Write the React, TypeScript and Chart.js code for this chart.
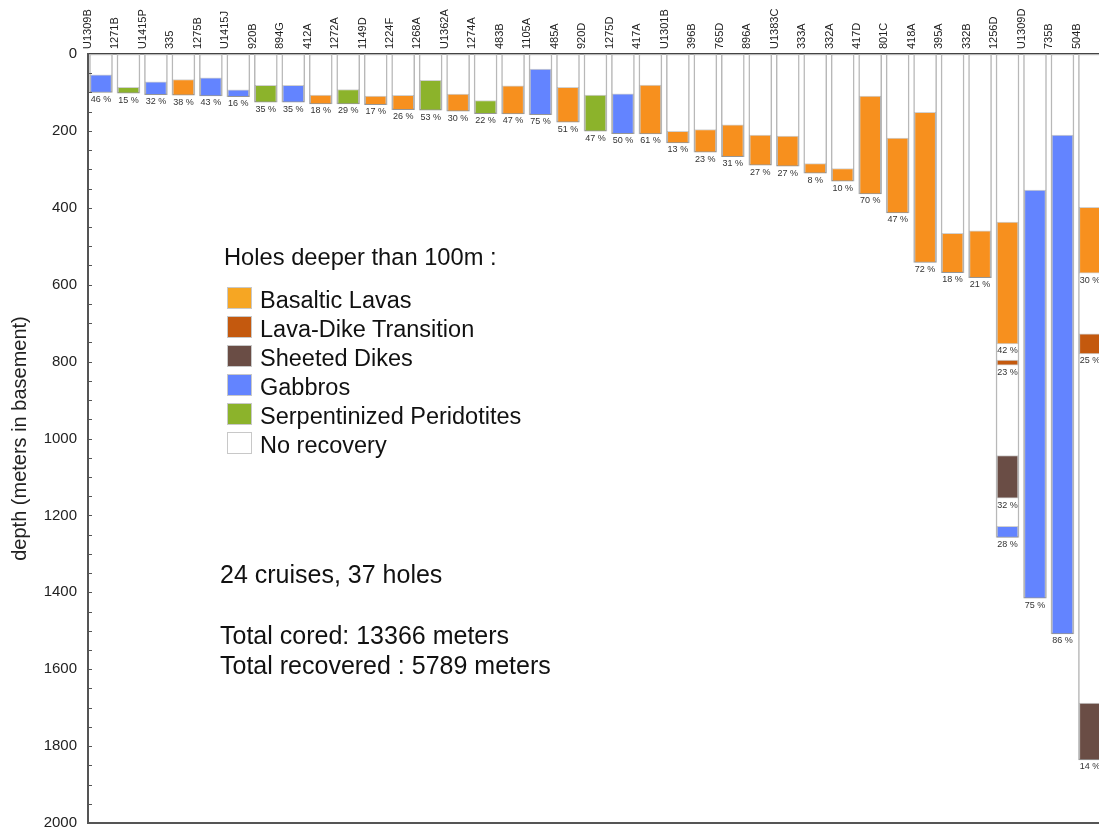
import React, { useEffect, useRef } from "react";
import { Chart, registerables } from "chart.js";

Chart.register(...registerables);

const FONT = '"Liberation Sans", Arial, Helvetica, sans-serif';

// Holes, ordered by total penetration into basement
const HOLES = [
  "U1309B", "1271B", "U1415P", "335", "1275B", "U1415J", "920B", "894G", "412A", "1272A",
  "1149D", "1224F", "1268A", "U1362A", "1274A", "483B", "1105A", "485A", "920D", "1275D",
  "417A", "U1301B", "396B", "765D", "896A", "U1383C", "333A", "332A", "417D", "801C",
  "418A", "395A", "332B", "1256D", "U1309D", "735B", "504B",
];

// total depth cored into basement (m)
const DEPTHS = [
  100, 102, 106, 107, 109, 111, 125, 125, 130, 130,
  132, 145, 146, 149, 155, 156, 158, 177, 201, 207,
  208, 231, 255, 267, 289, 292, 310, 331, 364, 413,
  542, 569, 582, 1257, 1415, 1508, 1836,
];

// main lithology for single-section holes (lav, tra, dik, gab, per)
const ROCK = [
  "gab", "per", "gab", "lav", "gab", "gab", "per", "gab", "lav", "per",
  "lav", "lav", "per", "lav", "per", "lav", "gab", "lav", "per", "gab",
  "lav", "lav", "lav", "lav", "lav", "lav", "lav", "lav", "lav", "lav",
  "lav", "lav", "lav", null, "gab", "gab", null,
];

// recovery (%) for single-section holes
const RECOVERY = [
  46, 15, 32, 38, 43, 16, 35, 35, 18, 29,
  17, 26, 53, 30, 22, 47, 75, 51, 47, 50,
  61, 13, 23, 31, 27, 27, 8, 10, 70, 47,
  72, 18, 21, null, 75, 86, null,
];

// multi-section holes
const H1256D_ENDS = [754, 809, 1155, 1257];
const H1256D_ROCKS = ["lav", "tra", "dik", "gab"];
const H1256D_RECOVERY = [42, 23, 32, 28];

const H504B_ENDS = [570, 780, 1836];
const H504B_ROCKS = ["lav", "tra", "dik"];
const H504B_RECOVERY = [30, 25, 14];

const Y_TICKS_LABELLED = [0, 200, 400, 600, 800, 1000, 1200, 1400, 1600, 1800, 2000];

const LITHS = [
  { key: "lav", label: "Basaltic Lavas", bar: "#F7901E", swatch: "#F6A623" },
  { key: "tra", label: "Lava-Dike Transition", bar: "#C4590E", swatch: "#C4590E" },
  { key: "dik", label: "Sheeted Dikes", bar: "#6A4D45", swatch: "#6A4D45" },
  { key: "gab", label: "Gabbros", bar: "#6384FF", swatch: "#6384FF" },
  { key: "per", label: "Serpentinized Peridotites", bar: "#8CB32B", swatch: "#8CB32B" },
];

const MULTI: Record<string, { ends: number[]; rocks: string[]; rec: number[] }> = {
  "1256D": { ends: H1256D_ENDS, rocks: H1256D_ROCKS, rec: H1256D_RECOVERY },
  "504B": { ends: H504B_ENDS, rocks: H504B_ROCKS, rec: H504B_RECOVERY },
};

type Block = { i: number; start: number; end: number; rock: string; pct: number; top: number };

function buildBlocks(): Block[] {
  const out: Block[] = [];
  HOLES.forEach((name, i) => {
    const m = MULTI[name];
    const secs = m
      ? m.ends.map((e, k) => ({ start: k ? m.ends[k - 1] : 0, end: e, rock: m.rocks[k], pct: m.rec[k] }))
      : [{ start: 0, end: DEPTHS[i], rock: ROCK[i] as string, pct: RECOVERY[i] as number }];
    secs.forEach((s) => {
      const top = s.end - (s.pct / 100) * (s.end - s.start);
      out.push({ i, ...s, top });
    });
  });
  return out;
}

const BLOCKS = buildBlocks();

const overlayPlugin = {
  id: "overlayPlugin",
  afterDatasetsDraw(chart: any) {
    const { ctx, scales } = chart;
    const x = scales.x;
    const y = scales.y;
    ctx.save();
    ctx.font = `9px ${FONT}`;
    ctx.fillStyle = "#333";
    ctx.textAlign = "center";
    ctx.textBaseline = "top";
    BLOCKS.forEach((b) => {
      ctx.fillText(`${b.pct} %`, x.getPixelForValue(b.i), y.getPixelForValue(b.end) + 2.5);
    });
    ctx.restore();
  },
  afterDraw(chart: any) {
    const { ctx, chartArea, scales } = chart;
    const y = scales.y;
    ctx.save();
    ctx.strokeStyle = "#555";
    ctx.lineWidth = 1;
    for (let v = 50; v < 2000; v += 50) {
      const py = Math.round(y.getPixelForValue(v)) + 0.5;
      ctx.beginPath();
      ctx.moveTo(chartArea.left, py);
      ctx.lineTo(chartArea.left + 4, py);
      ctx.stroke();
    }
    ctx.strokeStyle = "#555";
    ctx.lineWidth = 2;
    ctx.beginPath();
    ctx.moveTo(chartArea.left, chartArea.bottom);
    ctx.lineTo(chartArea.right, chartArea.bottom);
    ctx.stroke();
    ctx.restore();
  },
};

export default function App() {
  const canvasRef = useRef<HTMLCanvasElement | null>(null);

  useEffect(() => {
    if (!canvasRef.current) return;
    const datasets: any[] = [
      {
        label: "No recovery",
        data: HOLES.map((_, i) => ({ x: i, y: [0, DEPTHS[i]] })),
        backgroundColor: "#ffffff",
        borderColor: "#b8b8b8",
        borderWidth: 1.5,
        borderSkipped: false,
        barThickness: 23,
        grouped: false,
        order: 2,
      },
      ...LITHS.map((l) => ({
        label: l.label,
        data: BLOCKS.filter((b) => b.rock === l.key).map((b) => ({ x: b.i, y: [b.top, b.end] })),
        backgroundColor: l.bar,
        borderColor: "rgba(0,0,0,0.18)",
        borderWidth: 1,
        borderSkipped: false,
        barThickness: 21,
        grouped: false,
        order: 1,
      })),
    ];

    const chart = new Chart(canvasRef.current, {
      type: "bar",
      data: { datasets },
      options: {
        responsive: false,
        animation: false,
        layout: { padding: { left: 0, top: 0, right: 0, bottom: 4 } },
        plugins: { legend: { display: false }, tooltip: { enabled: false } },
        scales: {
          x: {
            type: "linear",
            position: "top",
            min: -0.473,
            max: 36.33,
            offset: false,
            grid: { display: false, drawTicks: false },
            border: { display: true, color: "#444", width: 1.5 },
            afterBuildTicks: (s: any) => {
              s.ticks = HOLES.map((_, i) => ({ value: i }));
            },
            afterFit: (s: any) => {
              s.height = 54;
              s.paddingLeft = 0;
              s.paddingRight = 0;
            },
            ticks: {
              autoSkip: false,
              minRotation: 90,
              maxRotation: 90,
              padding: 5,
              color: "#222",
              font: { family: FONT, size: 11 },
              callback: (v: any) => HOLES[v] ?? "",
            },
          },
          y: {
            type: "linear",
            reverse: true,
            min: 0,
            max: 2000,
            grid: { display: false, drawTicks: false },
            border: { display: true, color: "#555", width: 2 },
            afterFit: (s: any) => {
              s.width = 88;
              s.paddingTop = 0;
              s.paddingBottom = 0;
            },
            ticks: {
              stepSize: 50,
              autoSkip: false,
              padding: 11,
              color: "#222",
              font: { family: FONT, size: 15 },
              callback: (v: any) => (Y_TICKS_LABELLED.includes(Number(v)) ? String(v) : ""),
            },
            title: {
              display: true,
              text: "depth (meters in basement)",
              color: "#222",
              font: { family: FONT, size: 20 },
              padding: { top: 8, bottom: 0 },
            },
          },
        },
      } as any,
      plugins: [overlayPlugin],
    });
    return () => chart.destroy();
  }, []);

  const textStyle = (left: number, centerY: number, size: number): React.CSSProperties => ({
    position: "absolute",
    left,
    top: centerY - 15,
    height: 30,
    lineHeight: "30px",
    fontFamily: FONT,
    fontSize: size,
    color: "#111",
    whiteSpace: "nowrap",
  });

  const legendItems = [
    ...LITHS.map((l) => ({ label: l.label, color: l.swatch })),
    { label: "No recovery", color: "#ffffff" },
  ];

  return (
    <div style={{ position: "absolute", left: 0, top: 0, width: 1099, height: 827, overflow: "hidden", background: "#fff" }}>
      <canvas ref={canvasRef} width={1099} height={827} style={{ display: "block", width: 1099, height: 827 }} />
      <div style={textStyle(224, 257, 23.7)}>Holes deeper than 100m :</div>
      {legendItems.map((it, k) => (
        <React.Fragment key={it.label}>
          <div
            style={{
              position: "absolute",
              left: 227,
              top: 287 + k * 29,
              width: 25,
              height: 22,
              background: it.color,
              border: "1px solid #c8c8c8",
              boxSizing: "border-box",
            }}
          />
          <div style={textStyle(260, 299.5 + k * 29, 23.5)}>{it.label}</div>
        </React.Fragment>
      ))}
      <div style={textStyle(220, 573.5, 25)}>24 cruises, 37 holes</div>
      <div style={textStyle(220, 634.5, 25)}>Total cored: 13366 meters</div>
      <div style={textStyle(220, 665, 25)}>Total recovered : 5789 meters</div>
    </div>
  );
}
